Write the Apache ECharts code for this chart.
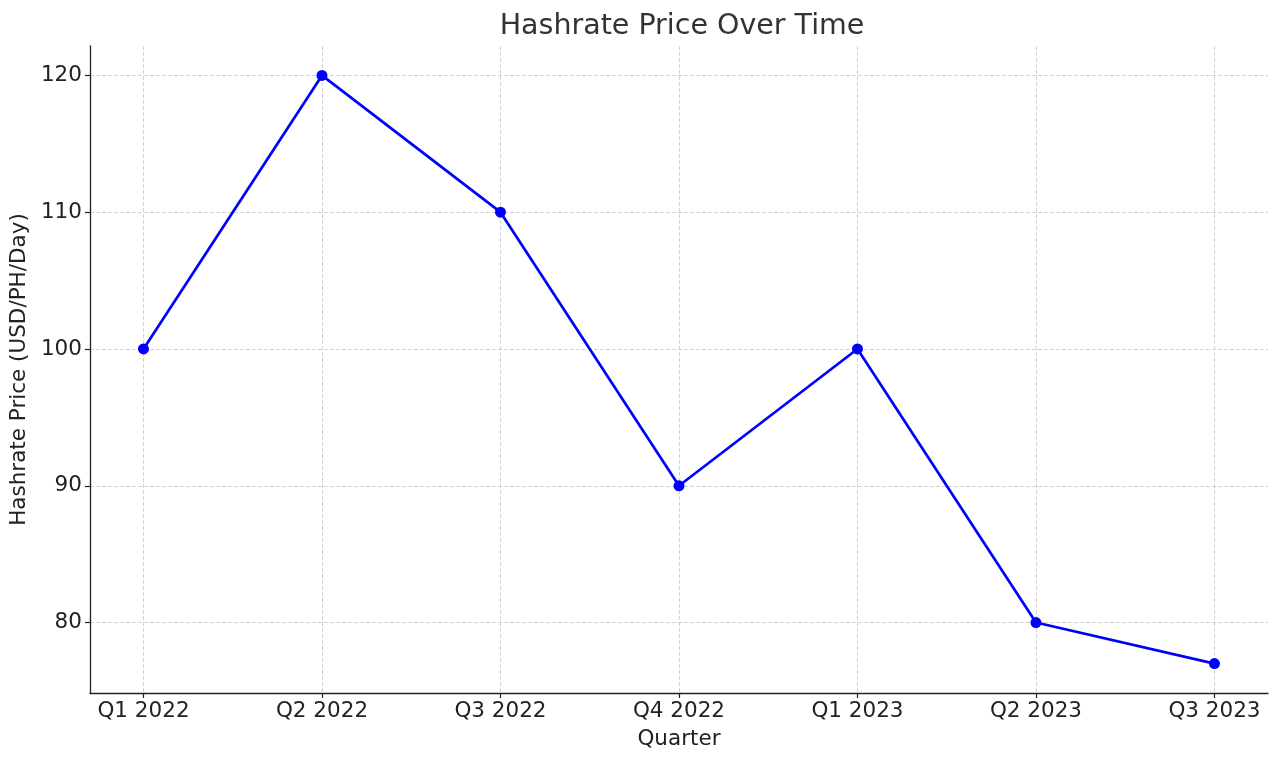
<!DOCTYPE html>
<html>
<head>
<meta charset="utf-8">
<script src="https://cdn.jsdelivr.net/npm/echarts@6/dist/echarts.min.js"></script>
<style>
html, body { margin: 0; padding: 0; background: #fff; }
#main { width: 1280px; height: 763px; }
</style>
</head>
<body>
<div id="main"></div>
<script>
// data
var quarters = ["Q1 2022", "Q2 2022", "Q3 2022", "Q4 2022", "Q1 2023", "Q2 2023", "Q3 2023"];
var prices = [100, 120, 110, 90, 100, 80, 77];
var yTicks = [80, 90, 100, 110, 120];

var font = "DejaVu Sans";
var points = prices.map(function (v, i) { return [i, v]; });
var xTicks = quarters.map(function (q, i) { return i; });

var myChart = echarts.init(document.getElementById("main"));
myChart.setOption({
  animation: false,
  backgroundColor: "#fff",
  title: {
    text: "Hashrate Price Over Time",
    left: 677,
    textAlign: "center",
    top: 7,
    textStyle: { fontFamily: font, fontSize: 28.5, fontWeight: "normal", color: "#333" }
  },
  grid: { left: 89, right: 12, top: 46, bottom: 70 },
  xAxis: {
    type: "value",
    min: -0.3,
    max: 6.3,
    name: "Quarter",
    nameLocation: "middle",
    nameGap: 35,
    nameTextStyle: { fontFamily: font, fontSize: 21.5, color: "#222" },
    axisLine: { onZero: false, lineStyle: { color: "#222", width: 1.3 } },
    axisTick: { show: true, length: 5, customValues: xTicks, lineStyle: { color: "#222", width: 1.2 } },
    axisLabel: {
      customValues: xTicks,
      fontFamily: font, fontSize: 21.5, color: "#222", margin: 7,
      formatter: function (v) { return quarters[Math.round(v)]; }
    },
    splitLine: { show: true, lineStyle: { color: "#c8c8c8", type: [4, 2], width: 0.8 } }
  },
  yAxis: {
    type: "value",
    min: 74.85,
    max: 122.15,
    name: "Hashrate Price (USD/PH/Day)",
    nameLocation: "middle",
    nameGap: 52,
    nameTextStyle: { fontFamily: font, fontSize: 21.5, color: "#222" },
    axisLine: { show: true, onZero: false, lineStyle: { color: "#222", width: 1.3 } },
    axisTick: { show: true, length: 5, customValues: yTicks, lineStyle: { color: "#222", width: 1.2 } },
    axisLabel: { customValues: yTicks, fontFamily: font, fontSize: 21.5, color: "#222", margin: 8 },
    splitLine: { show: true, lineStyle: { color: "#c8c8c8", type: [4, 2], width: 0.8 } }
  },
  series: [
    {
      type: "line",
      data: points,
      symbol: "circle",
      symbolSize: 11,
      lineStyle: { color: "#0000ff", width: 2.7 },
      itemStyle: { color: "#0000ff" }
    }
  ]
});
</script>
</body>
</html>
